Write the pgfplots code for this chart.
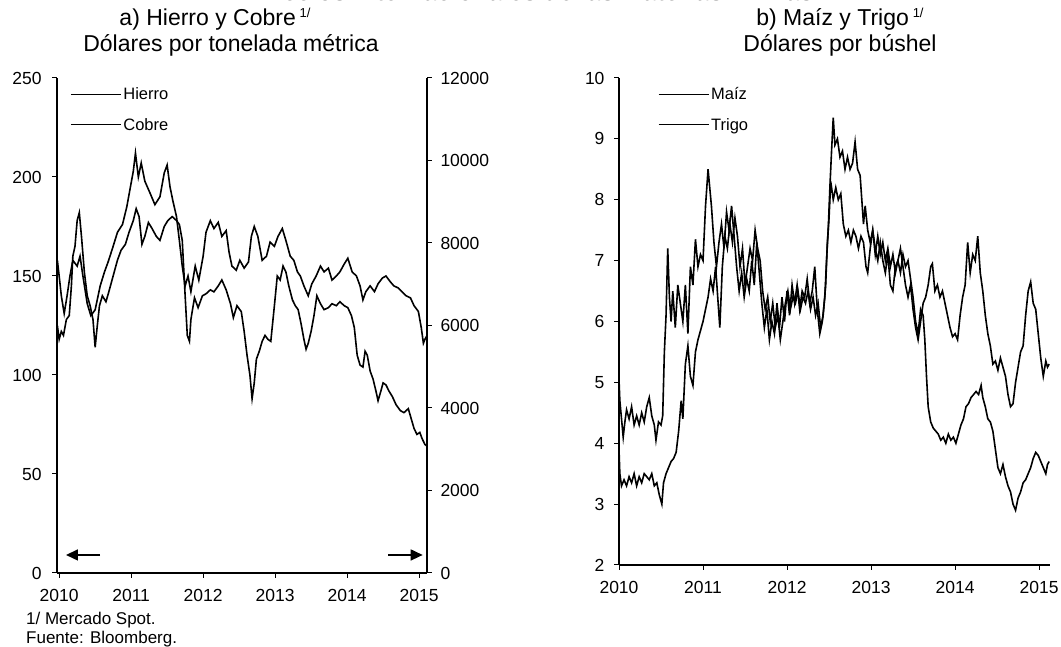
\documentclass[border=0pt]{standalone}
\usepackage{pgfplots}
\pgfplotsset{compat=1.18}
\usepackage{fontspec}
\setmainfont{Liberation Sans}
\usetikzlibrary{arrows.meta}

\pgfplotsset{
  common/.style={
    scale only axis, anchor=south west,
    tick align=outside, major tick length=5pt,
    tick style={black, line width=1pt},
    axis line style={black, line width=1.3pt},
    /pgf/number format/assume math mode=true,
    /pgf/number format/1000 sep={},
    scaled ticks=false,
    tick label style={font=\fontsize{17.5}{17.5}\selectfont},
    x tick label style={yshift=-8pt},
    clip=false,
  },
  leg/.style={
    legend cell align=left,
    legend style={draw=none, fill=none, font=\fontsize{16.5}{16.5}\selectfont,
      row sep=13pt, inner sep=0pt, anchor=north west},
    legend image code/.code={\draw[black, line width=1.2pt] (0pt,0pt) -- (50pt,0pt);},
  },
}

\begin{document}
\begin{tikzpicture}[x=1pt,y=1pt]
% ---------------- Panel a ----------------
\begin{axis}[common, leg,
  at={(57pt,74pt)}, width=370pt, height=495pt,
  xmin=2009.97, xmax=2015.11, ymin=0, ymax=250,
  axis x line*=bottom, axis y line*=left,
  xtick={2010,2011,2012,2013,2014,2015},
  ytick={0,50,100,150,200,250},
  y tick label style={xshift=-7pt},
  legend style={at={(0.035,0.985)}},
]
\addplot[black, line width=1.6pt] coordinates {
(2009.975,125)(2010.00,118)(2010.03,122)(2010.06,120)(2010.10,128)(2010.14,130)(2010.17,145)(2010.19,160)(2010.22,165)(2010.25,178)(2010.28,182)(2010.31,170)(2010.35,152)(2010.39,140)(2010.43,135)(2010.47,128)(2010.50,114)(2010.53,125)(2010.56,135)(2010.60,140)(2010.65,137)(2010.69,142)(2010.75,150)(2010.81,158)(2010.86,163)(2010.92,166)(2010.97,172)(2011.03,178)(2011.07,184)(2011.11,180)(2011.15,166)(2011.19,170)(2011.24,177)(2011.29,174)(2011.35,170)(2011.40,168)(2011.46,175)(2011.51,178)(2011.57,180)(2011.63,178)(2011.67,176)(2011.71,168)(2011.75,140)(2011.78,120)(2011.81,117)(2011.83,128)(2011.88,139)(2011.93,134)(2011.99,140)(2012.04,141)(2012.10,143)(2012.15,142)(2012.21,145)(2012.26,148)(2012.32,143)(2012.38,136)(2012.42,129)(2012.47,135)(2012.53,132)(2012.57,122)(2012.61,110)(2012.65,100)(2012.68,88)(2012.71,96)(2012.74,108)(2012.78,112)(2012.82,117)(2012.86,120)(2012.90,118)(2012.94,117)(2012.99,135)(2013.03,150)(2013.07,148)(2013.11,155)(2013.15,152)(2013.19,145)(2013.24,138)(2013.28,135)(2013.32,133)(2013.36,126)(2013.40,118)(2013.43,113)(2013.46,116)(2013.50,122)(2013.54,130)(2013.58,140)(2013.63,136)(2013.68,133)(2013.74,134)(2013.79,136)(2013.85,135)(2013.90,137)(2013.96,135)(2014.01,134)(2014.06,130)(2014.10,124)(2014.14,110)(2014.18,105)(2014.22,104)(2014.25,112)(2014.28,110)(2014.32,102)(2014.36,98)(2014.40,92)(2014.43,87)(2014.47,92)(2014.50,96)(2014.54,95)(2014.58,92)(2014.63,89)(2014.68,85)(2014.74,82)(2014.79,81)(2014.85,83)(2014.89,78)(2014.93,73)(2014.97,70)(2015.01,71)(2015.04,68)(2015.08,65)(2015.11,64)
};
\addlegendentry{Hierro}
\addlegendimage{black}
\addlegendentry{Cobre}
\draw[-{Triangle[length=12pt,width=11pt]}, line width=1.6pt] (axis cs:2010.57,9.1) -- (axis cs:2010.095,9.1);
\draw[-{Triangle[length=12pt,width=11pt]}, line width=1.6pt] (axis cs:2014.57,9.1) -- (axis cs:2015.05,9.1);
\end{axis}
\begin{axis}[common,
  at={(57pt,74pt)}, width=370pt, height=495pt,
  xmin=2009.97, xmax=2015.11, ymin=0, ymax=12000,
  axis x line=none, axis y line*=right,
  ytick={0,2000,4000,6000,8000,10000,12000},
  y tick label style={xshift=5pt},
]
\addplot[black, line width=1.6pt] coordinates {
(2009.975,7580)(2010.00,7200)(2010.03,6720)(2010.07,6290)(2010.11,6720)(2010.15,7200)(2010.19,7580)(2010.25,7440)(2010.29,7680)(2010.33,7200)(2010.39,6530)(2010.44,6240)(2010.50,6380)(2010.57,6960)(2010.63,7300)(2010.68,7540)(2010.75,7920)(2010.81,8260)(2010.88,8450)(2010.94,8880)(2010.99,9360)(2011.03,9740)(2011.06,10180)(2011.10,9600)(2011.14,9940)(2011.19,9500)(2011.26,9220)(2011.33,8930)(2011.40,9120)(2011.46,9700)(2011.50,9890)(2011.54,9360)(2011.58,9020)(2011.63,8640)(2011.67,8060)(2011.71,7440)(2011.75,6960)(2011.79,7200)(2011.83,6820)(2011.89,7440)(2011.94,7100)(2012.00,7680)(2012.04,8260)(2012.10,8540)(2012.15,8350)(2012.21,8500)(2012.26,8160)(2012.32,8300)(2012.36,7780)(2012.40,7440)(2012.46,7340)(2012.51,7580)(2012.57,7390)(2012.63,7540)(2012.67,8160)(2012.71,8400)(2012.76,8160)(2012.82,7580)(2012.88,7680)(2012.93,8020)(2012.99,7920)(2013.04,8160)(2013.10,8350)(2013.15,8060)(2013.21,7680)(2013.26,7580)(2013.31,7300)(2013.35,7200)(2013.40,6960)(2013.46,6720)(2013.51,7010)(2013.57,7200)(2013.63,7440)(2013.68,7300)(2013.74,7390)(2013.79,7100)(2013.85,7200)(2013.90,7300)(2013.96,7490)(2014.01,7630)(2014.07,7300)(2014.13,7200)(2014.18,6960)(2014.22,6620)(2014.26,6820)(2014.32,6960)(2014.38,6820)(2014.43,7010)(2014.49,7150)(2014.54,7200)(2014.60,7060)(2014.65,6960)(2014.71,6910)(2014.76,6820)(2014.82,6720)(2014.88,6670)(2014.93,6480)(2014.99,6340)(2015.03,5950)(2015.06,5570)(2015.08,5660)(2015.11,5760)
};
\end{axis}
% ---------------- Panel b ----------------
\begin{axis}[common, leg,
  at={(619pt,82pt)}, width=431pt, height=487pt,
  xmin=2010, xmax=2015.13, ymin=2, ymax=10,
  axis x line*=bottom, axis y line*=left,
  xtick={2010,2011,2012,2013,2014,2015},
  ytick={2,3,4,5,6,7,8,9,10},
  y tick label style={xshift=-6pt},
  legend style={at={(0.09,0.985)}},
]
\addplot[black, line width=1.6pt] coordinates {
(2010.00,3.9)(2010.01,3.5)(2010.03,3.3)(2010.06,3.4)(2010.09,3.3)(2010.12,3.45)(2010.15,3.35)(2010.18,3.5)(2010.21,3.3)(2010.24,3.45)(2010.27,3.35)(2010.30,3.5)(2010.33,3.45)(2010.36,3.4)(2010.39,3.5)(2010.42,3.3)(2010.45,3.35)(2010.48,3.15)(2010.51,3.0)(2010.53,3.35)(2010.56,3.5)(2010.59,3.6)(2010.62,3.7)(2010.65,3.75)(2010.68,3.85)(2010.71,4.2)(2010.74,4.7)(2010.76,4.4)(2010.79,5.3)(2010.82,5.6)(2010.85,5.1)(2010.88,4.95)(2010.91,5.5)(2010.94,5.7)(2010.97,5.85)(2011.00,6.0)(2011.03,6.2)(2011.06,6.4)(2011.09,6.7)(2011.12,6.5)(2011.15,6.9)(2011.18,6.3)(2011.20,5.9)(2011.23,6.9)(2011.26,7.4)(2011.29,7.2)(2011.32,7.6)(2011.35,7.3)(2011.38,7.7)(2011.41,7.4)(2011.44,6.9)(2011.47,7.2)(2011.50,6.6)(2011.53,6.9)(2011.56,7.2)(2011.59,7.0)(2011.62,7.5)(2011.65,7.2)(2011.68,7.0)(2011.71,6.5)(2011.74,6.2)(2011.77,6.4)(2011.80,6.0)(2011.83,6.3)(2011.86,5.9)(2011.89,6.1)(2011.92,5.7)(2011.95,6.0)(2011.98,6.3)(2012.01,6.5)(2012.04,6.2)(2012.07,6.4)(2012.10,6.3)(2012.13,6.5)(2012.16,6.2)(2012.19,6.4)(2012.22,6.3)(2012.25,6.5)(2012.28,6.2)(2012.31,6.4)(2012.34,6.1)(2012.37,6.3)(2012.40,5.9)(2012.43,6.1)(2012.46,6.6)(2012.48,7.3)(2012.50,7.7)(2012.52,8.3)(2012.55,8.0)(2012.58,8.2)(2012.61,8.0)(2012.64,8.1)(2012.67,7.6)(2012.70,7.4)(2012.73,7.5)(2012.76,7.3)(2012.79,7.5)(2012.82,7.4)(2012.85,7.2)(2012.88,7.4)(2012.91,7.3)(2012.94,6.9)(2012.96,6.8)(2012.99,7.2)(2013.02,7.5)(2013.05,7.2)(2013.08,7.0)(2013.11,7.3)(2013.14,7.0)(2013.17,6.8)(2013.20,7.1)(2013.23,6.6)(2013.26,6.5)(2013.29,6.9)(2013.32,7.0)(2013.35,6.8)(2013.38,7.1)(2013.41,6.9)(2013.44,7.0)(2013.47,6.7)(2013.50,6.4)(2013.53,6.0)(2013.56,5.8)(2013.59,6.2)(2013.62,6.1)(2013.64,5.7)(2013.66,5.1)(2013.68,4.6)(2013.71,4.35)(2013.74,4.25)(2013.77,4.2)(2013.80,4.15)(2013.83,4.05)(2013.86,4.1)(2013.89,4.0)(2013.92,4.15)(2013.95,4.05)(2013.98,4.1)(2014.01,4.0)(2014.04,4.15)(2014.07,4.3)(2014.10,4.4)(2014.13,4.6)(2014.16,4.65)(2014.19,4.75)(2014.22,4.8)(2014.25,4.85)(2014.28,4.8)(2014.31,4.95)(2014.33,4.75)(2014.36,4.6)(2014.39,4.4)(2014.42,4.35)(2014.45,4.2)(2014.48,3.9)(2014.51,3.6)(2014.54,3.5)(2014.57,3.65)(2014.60,3.45)(2014.63,3.3)(2014.66,3.2)(2014.69,3.0)(2014.72,2.9)(2014.75,3.1)(2014.78,3.2)(2014.81,3.35)(2014.84,3.4)(2014.87,3.5)(2014.90,3.6)(2014.93,3.75)(2014.96,3.85)(2014.99,3.8)(2015.02,3.7)(2015.05,3.6)(2015.08,3.5)(2015.10,3.65)(2015.12,3.7)
};
\addlegendentry{Maíz}
\addplot[black, line width=1.6pt] coordinates {
(2010.00,5.05)(2010.01,4.7)(2010.03,4.4)(2010.05,4.1)(2010.07,4.35)(2010.09,4.55)(2010.12,4.4)(2010.15,4.6)(2010.18,4.3)(2010.21,4.45)(2010.24,4.3)(2010.27,4.5)(2010.30,4.35)(2010.33,4.6)(2010.36,4.75)(2010.39,4.45)(2010.42,4.3)(2010.44,4.05)(2010.47,4.35)(2010.50,4.3)(2010.52,4.45)(2010.54,5.5)(2010.56,6.1)(2010.58,7.2)(2010.60,6.4)(2010.62,6.0)(2010.64,6.5)(2010.67,5.9)(2010.70,6.6)(2010.73,6.3)(2010.76,6.0)(2010.79,6.6)(2010.82,5.8)(2010.85,6.9)(2010.88,6.6)(2010.91,7.35)(2010.94,6.9)(2010.97,7.1)(2011.00,7.0)(2011.03,7.9)(2011.06,8.5)(2011.08,8.2)(2011.10,7.9)(2011.13,7.3)(2011.16,6.9)(2011.19,7.3)(2011.22,7.6)(2011.25,7.2)(2011.28,7.8)(2011.31,7.5)(2011.34,7.9)(2011.37,7.4)(2011.40,6.9)(2011.43,6.5)(2011.46,6.8)(2011.49,6.4)(2011.52,6.7)(2011.55,6.5)(2011.58,7.0)(2011.61,6.6)(2011.64,7.3)(2011.67,6.8)(2011.70,6.3)(2011.73,5.9)(2011.76,6.2)(2011.79,5.7)(2011.82,6.0)(2011.85,5.8)(2011.88,6.3)(2011.91,5.9)(2011.94,6.4)(2011.97,6.0)(2012.00,6.5)(2012.03,6.1)(2012.06,6.6)(2012.09,6.3)(2012.12,6.6)(2012.15,6.2)(2012.18,6.5)(2012.21,6.4)(2012.24,6.7)(2012.27,6.3)(2012.30,6.5)(2012.33,6.9)(2012.36,6.2)(2012.39,5.8)(2012.42,6.0)(2012.45,6.4)(2012.47,7.0)(2012.49,7.5)(2012.51,8.2)(2012.53,8.8)(2012.55,9.35)(2012.57,8.9)(2012.60,9.0)(2012.63,8.7)(2012.66,8.8)(2012.69,8.5)(2012.72,8.7)(2012.75,8.5)(2012.78,8.6)(2012.81,8.95)(2012.84,8.5)(2012.87,8.4)(2012.89,8.0)(2012.91,7.6)(2012.93,7.9)(2012.96,7.5)(2012.99,7.3)(2013.02,7.5)(2013.05,7.1)(2013.08,7.4)(2013.11,7.1)(2013.14,7.3)(2013.17,7.0)(2013.20,7.2)(2013.23,6.9)(2013.26,7.1)(2013.29,6.8)(2013.32,7.0)(2013.35,7.2)(2013.38,6.9)(2013.41,6.6)(2013.44,6.4)(2013.47,6.6)(2013.50,6.2)(2013.53,5.9)(2013.56,5.7)(2013.59,6.0)(2013.62,6.3)(2013.65,6.4)(2013.68,6.6)(2013.71,6.9)(2013.73,6.95)(2013.76,6.5)(2013.79,6.6)(2013.82,6.4)(2013.85,6.5)(2013.88,6.3)(2013.91,6.1)(2013.94,5.9)(2013.97,5.75)(2014.00,5.8)(2014.03,5.7)(2014.06,6.1)(2014.09,6.4)(2014.12,6.6)(2014.15,7.3)(2014.18,6.8)(2014.21,7.1)(2014.24,7.0)(2014.27,7.4)(2014.30,6.8)(2014.33,6.5)(2014.36,6.1)(2014.39,5.8)(2014.42,5.6)(2014.45,5.3)(2014.48,5.35)(2014.51,5.2)(2014.54,5.4)(2014.57,5.25)(2014.60,5.1)(2014.63,4.8)(2014.66,4.6)(2014.69,4.65)(2014.72,5.0)(2014.75,5.25)(2014.78,5.5)(2014.81,5.6)(2014.84,6.1)(2014.87,6.5)(2014.90,6.65)(2014.93,6.3)(2014.96,6.2)(2014.99,5.8)(2015.02,5.4)(2015.05,5.1)(2015.08,5.35)(2015.10,5.25)(2015.12,5.3)
};
\addlegendentry{Trigo}
\end{axis}
% ---------------- Texts ----------------
\node[anchor=base, font=\bfseries\fontsize{25}{25}\selectfont] at (535pt,646pt) {Precios Internacionales de las Materias Primas};
\node[anchor=base, font=\fontsize{23}{23}\selectfont] at (215pt,621pt) {a) Hierro y Cobre\,\raisebox{8pt}{\fontsize{13}{13}\selectfont 1/}};
\node[anchor=base, font=\fontsize{23}{23}\selectfont] at (231pt,595pt) {Dólares por tonelada métrica};
\node[anchor=base, font=\fontsize{23}{23}\selectfont] at (840pt,621pt) {b) Maíz y Trigo\,\raisebox{8pt}{\fontsize{13}{13}\selectfont 1/}};
\node[anchor=base, font=\fontsize{23}{23}\selectfont] at (840pt,595pt) {Dólares por búshel};
\node[anchor=base west, inner sep=0pt, font=\fontsize{17}{17}\selectfont] at (26pt,22pt) {1/ Mercado Spot.};
\node[anchor=base west, inner sep=0pt, font=\fontsize{17}{17}\selectfont] at (26pt,3pt) {Fuente: Bloomberg.};
\pgfresetboundingbox
\useasboundingbox (0pt,0pt) rectangle (1061pt,647pt);
\end{tikzpicture}
\end{document}
